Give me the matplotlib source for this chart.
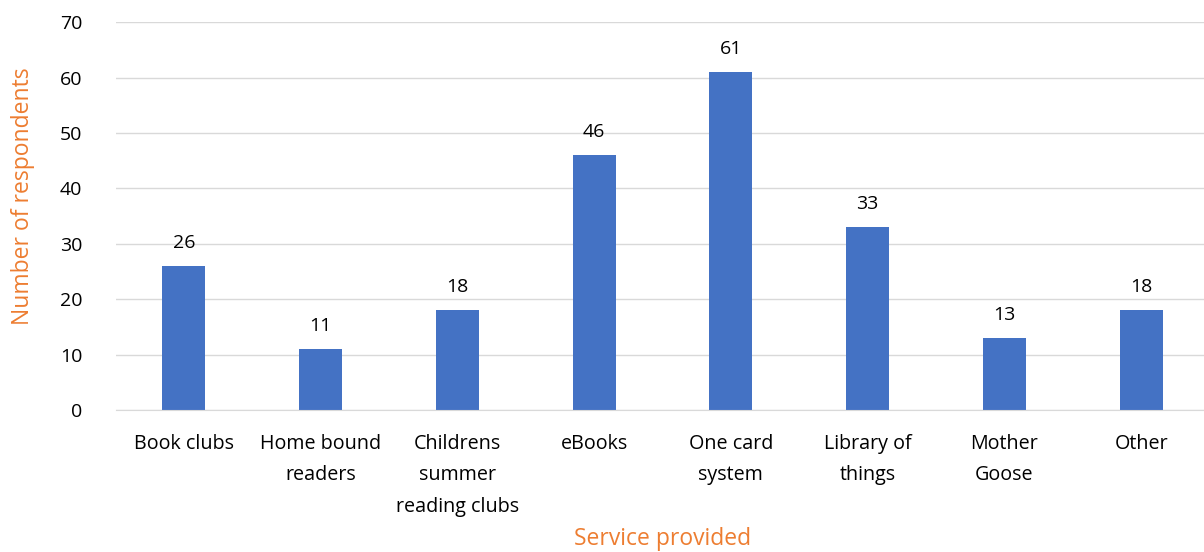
import matplotlib.pyplot as plt

plt.rcParams['font.family'] = ['Open Sans', 'DejaVu Sans']

# chart data
services = ['Book clubs', 'Home bound\nreaders', 'Childrens\nsummer\nreading clubs', 'eBooks',
            'One card\nsystem', 'Library of\nthings', 'Mother\nGoose', 'Other']
respondents = [26, 11, 18, 46, 61, 33, 13, 18]
y_ticks = [0, 10, 20, 30, 40, 50, 60, 70]

bar_color = '#4472C4'
label_color = '#ED7D31'

fig = plt.figure(figsize=(12.04, 5.52), dpi=100)
ax = fig.add_axes([0.096, 0.257, 0.904, 0.703])

x = range(len(services))
bars = ax.bar(x, respondents, width=0.315, color=bar_color, zorder=3)

# value labels above the bars
for b, v in zip(bars, respondents):
    ax.text(b.get_x() + b.get_width() / 2, v + 2.5, str(v), ha='center', va='bottom',
            fontsize=14, color='black')

ax.set_xlim(-0.5, len(services) - 0.54)
ax.set_ylim(0, 70)
ax.set_yticks(y_ticks)
ax.set_xticks(list(x))
ax.set_xticklabels(services, fontsize=14.2, linespacing=1.78, va='top')
ax.tick_params(axis='y', labelsize=14, length=0, pad=24)
ax.tick_params(axis='x', length=0, pad=17)

ax.grid(axis='y', color='#D9D9D9', linewidth=1, zorder=0)
for s in ['top', 'right', 'left']:
    ax.spines[s].set_visible(False)
ax.spines['bottom'].set_color('#D9D9D9')
ax.spines['bottom'].set_zorder(4)

# axis titles at fixed spots, like the original
fig.text(0.55, 0.024, 'Service provided', color=label_color, fontsize=16.5,
         ha='center', va='center')
fig.text(0.019, 0.645, 'Number of respondents', color=label_color, fontsize=16.5,
         ha='center', va='center', rotation=90)

fig.savefig('out.png', dpi=100)
